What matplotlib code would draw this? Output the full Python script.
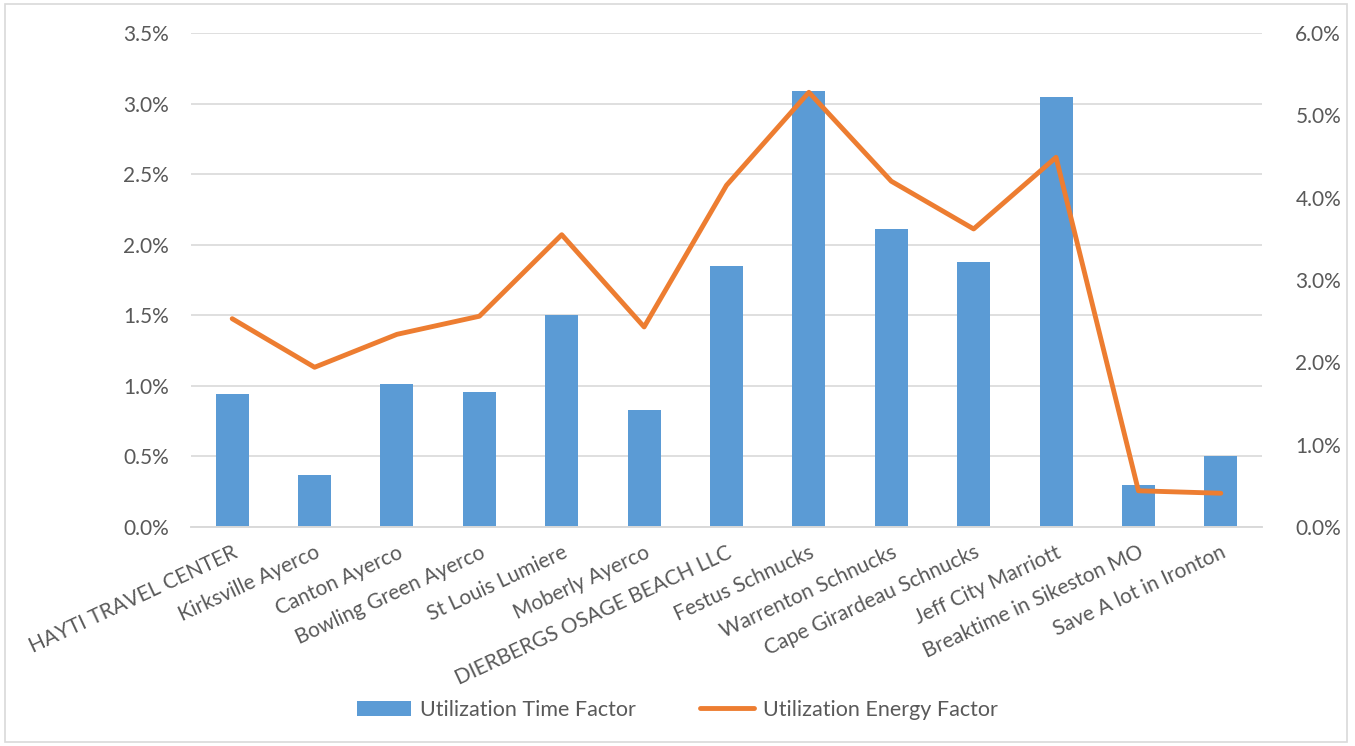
import numpy as np
import matplotlib.pyplot as plt
from matplotlib.patches import Rectangle
from matplotlib.ticker import PercentFormatter

plt.rcParams['font.family'] = ['Lato', 'DejaVu Sans']

sites = ['HAYTI TRAVEL CENTER', 'Kirksville Ayerco', 'Canton Ayerco', 'Bowling Green Ayerco',
         'St Louis Lumiere', 'Moberly Ayerco', 'DIERBERGS OSAGE BEACH LLC', 'Festus Schnucks',
         'Warrenton Schnucks', 'Cape Girardeau Schnucks', 'Jeff City Marriott',
         'Breaktime in Sikeston MO', 'Save A lot in Ironton']
# values in percent
time_factor = [0.94, 0.37, 1.01, 0.96, 1.50, 0.83, 1.85, 3.09, 2.11, 1.88, 3.05, 0.30, 0.50]
energy_factor = [2.53, 1.94, 2.34, 2.56, 3.55, 2.43, 4.15, 5.28, 4.20, 3.62, 4.49, 0.44, 0.41]

bar_color = '#5B9BD5'
line_color = '#ED7D31'
text_color = '#595959'
grid_color = '#D9D9D9'

fig = plt.figure(figsize=(13.55, 7.46), dpi=100)
ax = fig.add_axes([191 / 1355, 1 - 527 / 746, (1262 - 191) / 1355, (527 - 33) / 746])
ax2 = ax.twinx()

x = np.arange(len(sites))
ax.bar(x, time_factor, width=0.4, color=bar_color, label='Utilization Time Factor', zorder=2)
ax2.plot(x, energy_factor, color=line_color, lw=3.5, solid_capstyle='round',
         label='Utilization Energy Factor', zorder=3)

ax.set_xlim(-0.5, len(sites) - 0.5)
ax.set_ylim(0, 3.5)
ax.set_yticks(np.arange(0, 3.51, 0.5))
ax2.set_ylim(0, 6)
ax2.set_yticks(np.arange(0, 6.01, 1))
ax.yaxis.set_major_formatter(PercentFormatter(decimals=1))
ax2.yaxis.set_major_formatter(PercentFormatter(decimals=1))

ax.grid(axis='y', color=grid_color, lw=1.2, zorder=0)
ax.set_axisbelow(True)
for a in (ax, ax2):
    for s in ['top', 'left', 'right']:
        a.spines[s].set_visible(False)
    a.spines['bottom'].set_color(grid_color)
    a.spines['bottom'].set_linewidth(1.2)
    a.tick_params(length=0, labelsize=15, colors=text_color)
ax.tick_params(axis='y', pad=16)
ax2.tick_params(axis='y', pad=24)

ax.set_xticks(x)
ax.set_xticklabels(sites, rotation=25, ha='right', rotation_mode='anchor', fontsize=15)
ax.tick_params(axis='x', pad=11)

h1, l1 = ax.get_legend_handles_labels()
h2, l2 = ax2.get_legend_handles_labels()
fig.legend(h1 + h2, l1 + l2, loc='center', bbox_to_anchor=(0.5, 1 - 710 / 746), ncol=2,
           frameon=False, fontsize=15.5, labelcolor=text_color, columnspacing=3.0,
           handlelength=2.5, handletextpad=0.4)

fig.patches.append(Rectangle((5 / 1355, 4 / 746), 1342 / 1355, 738 / 746, transform=fig.transFigure,
                             fill=False, edgecolor=grid_color, lw=1.2))

fig.savefig('out.png', dpi=100)
